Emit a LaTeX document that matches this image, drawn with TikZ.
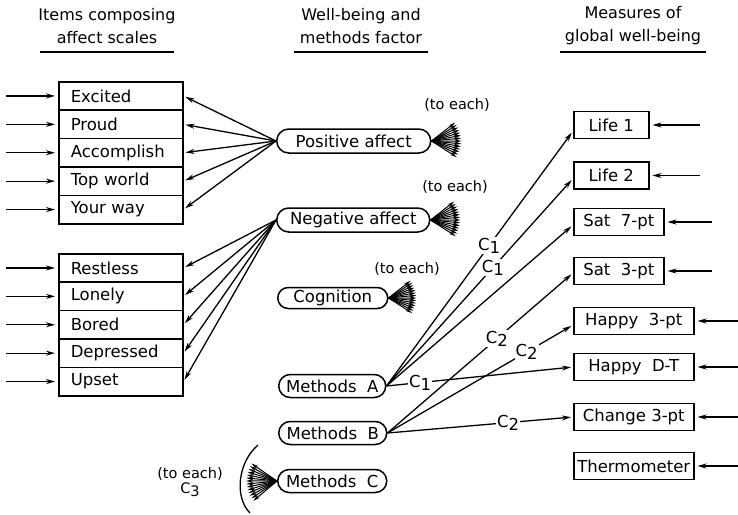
\documentclass[tikz,border=0pt]{standalone}
\usepackage{fontspec}
\setmainfont{DejaVu Sans}
\usetikzlibrary{shapes.misc,arrows.meta,calc}
\begin{document}
\begin{tikzpicture}[x=1pt,y=-1pt,
 every node/.style={font=\fontsize{16.5}{19}\selectfont},
 item/.style={draw,line width=1.5pt,minimum width=124pt,minimum height=28.4pt,text width=100pt,align=left,inner xsep=12pt,inner ysep=0pt,anchor=north west},
 meas/.style={draw,line width=1.5pt,minimum height=27pt,anchor=west,inner sep=0pt},
 fac/.style={draw,line width=1.5pt,rounded rectangle,minimum height=23pt,anchor=west,inner sep=0pt},
 conn/.style={line width=1.3pt,-{Stealth[length=9pt,width=5pt]},shorten >=2pt},
 fanln/.style={line width=1pt,-{Stealth[length=7pt,width=3.5pt]}},
 lbl/.style={fill=white,inner sep=1pt},
 hdr/.style={align=center,font=\fontsize{16}{23}\selectfont},
 each/.style={font=\fontsize{14.5}{16}\selectfont},
 uline/.style={line width=1.6pt}
]
\useasboundingbox (0,0) rectangle (738,514);

% headers
\node[hdr] (h1) at (107,26) {Items composing\\affect scales};
\node[hdr] (h2) at (361,26) {Well-being and\\methods factor};
\node[hdr] (h3) at (633,26) {Measures of\\global well-being};
\draw[uline] (40,52) -- (174,52);
\draw[uline] (294,52) -- (428,52);
\draw[uline] (560,52) -- (706,52);

% left item boxes
\node[item] (ex) at (58,81) {Excited};
\node[item] (pr) at (58,109.4) {Proud};
\node[item] (ac) at (58,137.8) {Accomplish};
\node[item] (tw) at (58,166.2) {Top world};
\node[item] (yw) at (58,194.6) {Your way};
\node[item] (re) at (58,253) {Restless};
\node[item] (lo) at (58,281.4) {Lonely};
\node[item] (bo) at (58,309.8) {Bored};
\node[item] (de) at (58,338.2) {Depressed};
\node[item] (up) at (58,366.6) {Upset};

\foreach \n in {ex,pr,ac,tw,yw,re,lo,bo,de,up}{
  \coordinate (\n-in) at ([xshift=-52pt]\n.west);
  \draw[conn,shorten >=3pt] (\n-in) -- (\n.west);
}

% factors
\node[fac,minimum width=154pt,minimum height=24pt] (pa) at (276,141) {Positive affect};
\node[fac,minimum width=153pt,minimum height=24pt] (na) at (276,220) {Negative affect};
\node[fac,minimum width=110pt,minimum height=21pt] (co) at (277,298) {Cognition};
\node[fac,minimum width=107pt] (ma) at (278,386) {Methods~~A};
\node[fac,minimum width=108pt] (mb) at (278,433) {Methods~~B};
\node[fac,minimum width=109pt] (mc) at (277,481) {Methods~~C};

\foreach \n in {ex,pr,ac,tw,yw} \draw[conn] (pa.west) -- (\n.east);
\foreach \n in {re,lo,bo,de,up} \draw[conn] (na.west) -- (\n.east);

% fans
\foreach \a in {-38,-32.57,...,38} \draw[fanln] (pa.east) -- ++(\a:30);
\foreach \a in {-38,-32.57,...,38} \draw[fanln] (na.east) -- ++(\a:30);
\foreach \a in {-38,-32.57,...,38} \draw[fanln] (co.east) -- ++(\a:28);
\foreach \a in {-40,-34.28,...,40} \draw[fanln] (mc.west) -- ++(180+\a:31);

\node[each] (te1) at (457,105) {(to each)};
\node[each] (te2) at (455,187) {(to each)};
\node[each] (te3) at (407,269) {(to each)};
\node[each,align=center] (te4) at (190,482) {(to each)\\[-1pt]C\raisebox{-3pt}{3}};
\draw[line width=1.3pt] (258,445) .. controls (238,462) and (234,497) .. (250,513);

% measures
\node[meas,minimum width=75pt] (l1) at (573,125) {Life 1};
\node[meas,minimum width=75pt] (l2) at (573,175.5) {Life 2};
\node[meas,minimum width=90pt] (s7) at (573,222) {Sat~~7-pt};
\node[meas,minimum width=90pt] (s3) at (573,271) {Sat~~3-pt};
\node[meas,minimum width=120pt] (h3p) at (573,321) {Happy~~3-pt};
\node[meas,minimum width=120pt] (hdt) at (573,367) {Happy~~D-T};
\node[meas,minimum width=120pt] (c3) at (573,417) {Change 3-pt};
\node[meas,minimum width=120pt] (th) at (573,466) {Thermometer};

\coordinate (l1-in) at (700,125);
\coordinate (l2-in) at (700,175.5);
\coordinate (s7-in) at (712,222);
\coordinate (s3-in) at (712,271);
\coordinate (h3p-in) at (738,321);
\coordinate (hdt-in) at (738,367);
\coordinate (c3-in) at (738,417);
\coordinate (th-in) at (738,466);
\foreach \n in {l1,l2,s7,s3,h3p,hdt,c3,th} \draw[conn,shorten >=3pt] (\n-in) -- (\n.east);

% methods connectors
\draw[conn] (ma.east) -- node[lbl,pos=0.55] {C\raisebox{-3pt}{1}} ([yshift=-6pt]l1.west);
\draw[conn] (ma.east) -- node[lbl,pos=0.57] {C\raisebox{-3pt}{1}} ([yshift=-3pt]l2.west);
\draw[conn] (ma.east) -- ([yshift=-3pt]s7.west);
\draw[conn] (ma.east) -- node[lbl,pos=0.18] {C\raisebox{-3pt}{1}} (hdt.west);
\draw[conn] (mb.east) -- node[lbl,pos=0.59] {C\raisebox{-3pt}{2}} ([yshift=-2pt]s3.west);
\draw[conn] (mb.east) -- node[lbl,pos=0.75] {C\raisebox{-3pt}{2}} ([yshift=-4pt]h3p.west);
\draw[conn] (mb.east) -- node[lbl,pos=0.65] {C\raisebox{-3pt}{2}} (c3.west);
\end{tikzpicture}
\end{document}
